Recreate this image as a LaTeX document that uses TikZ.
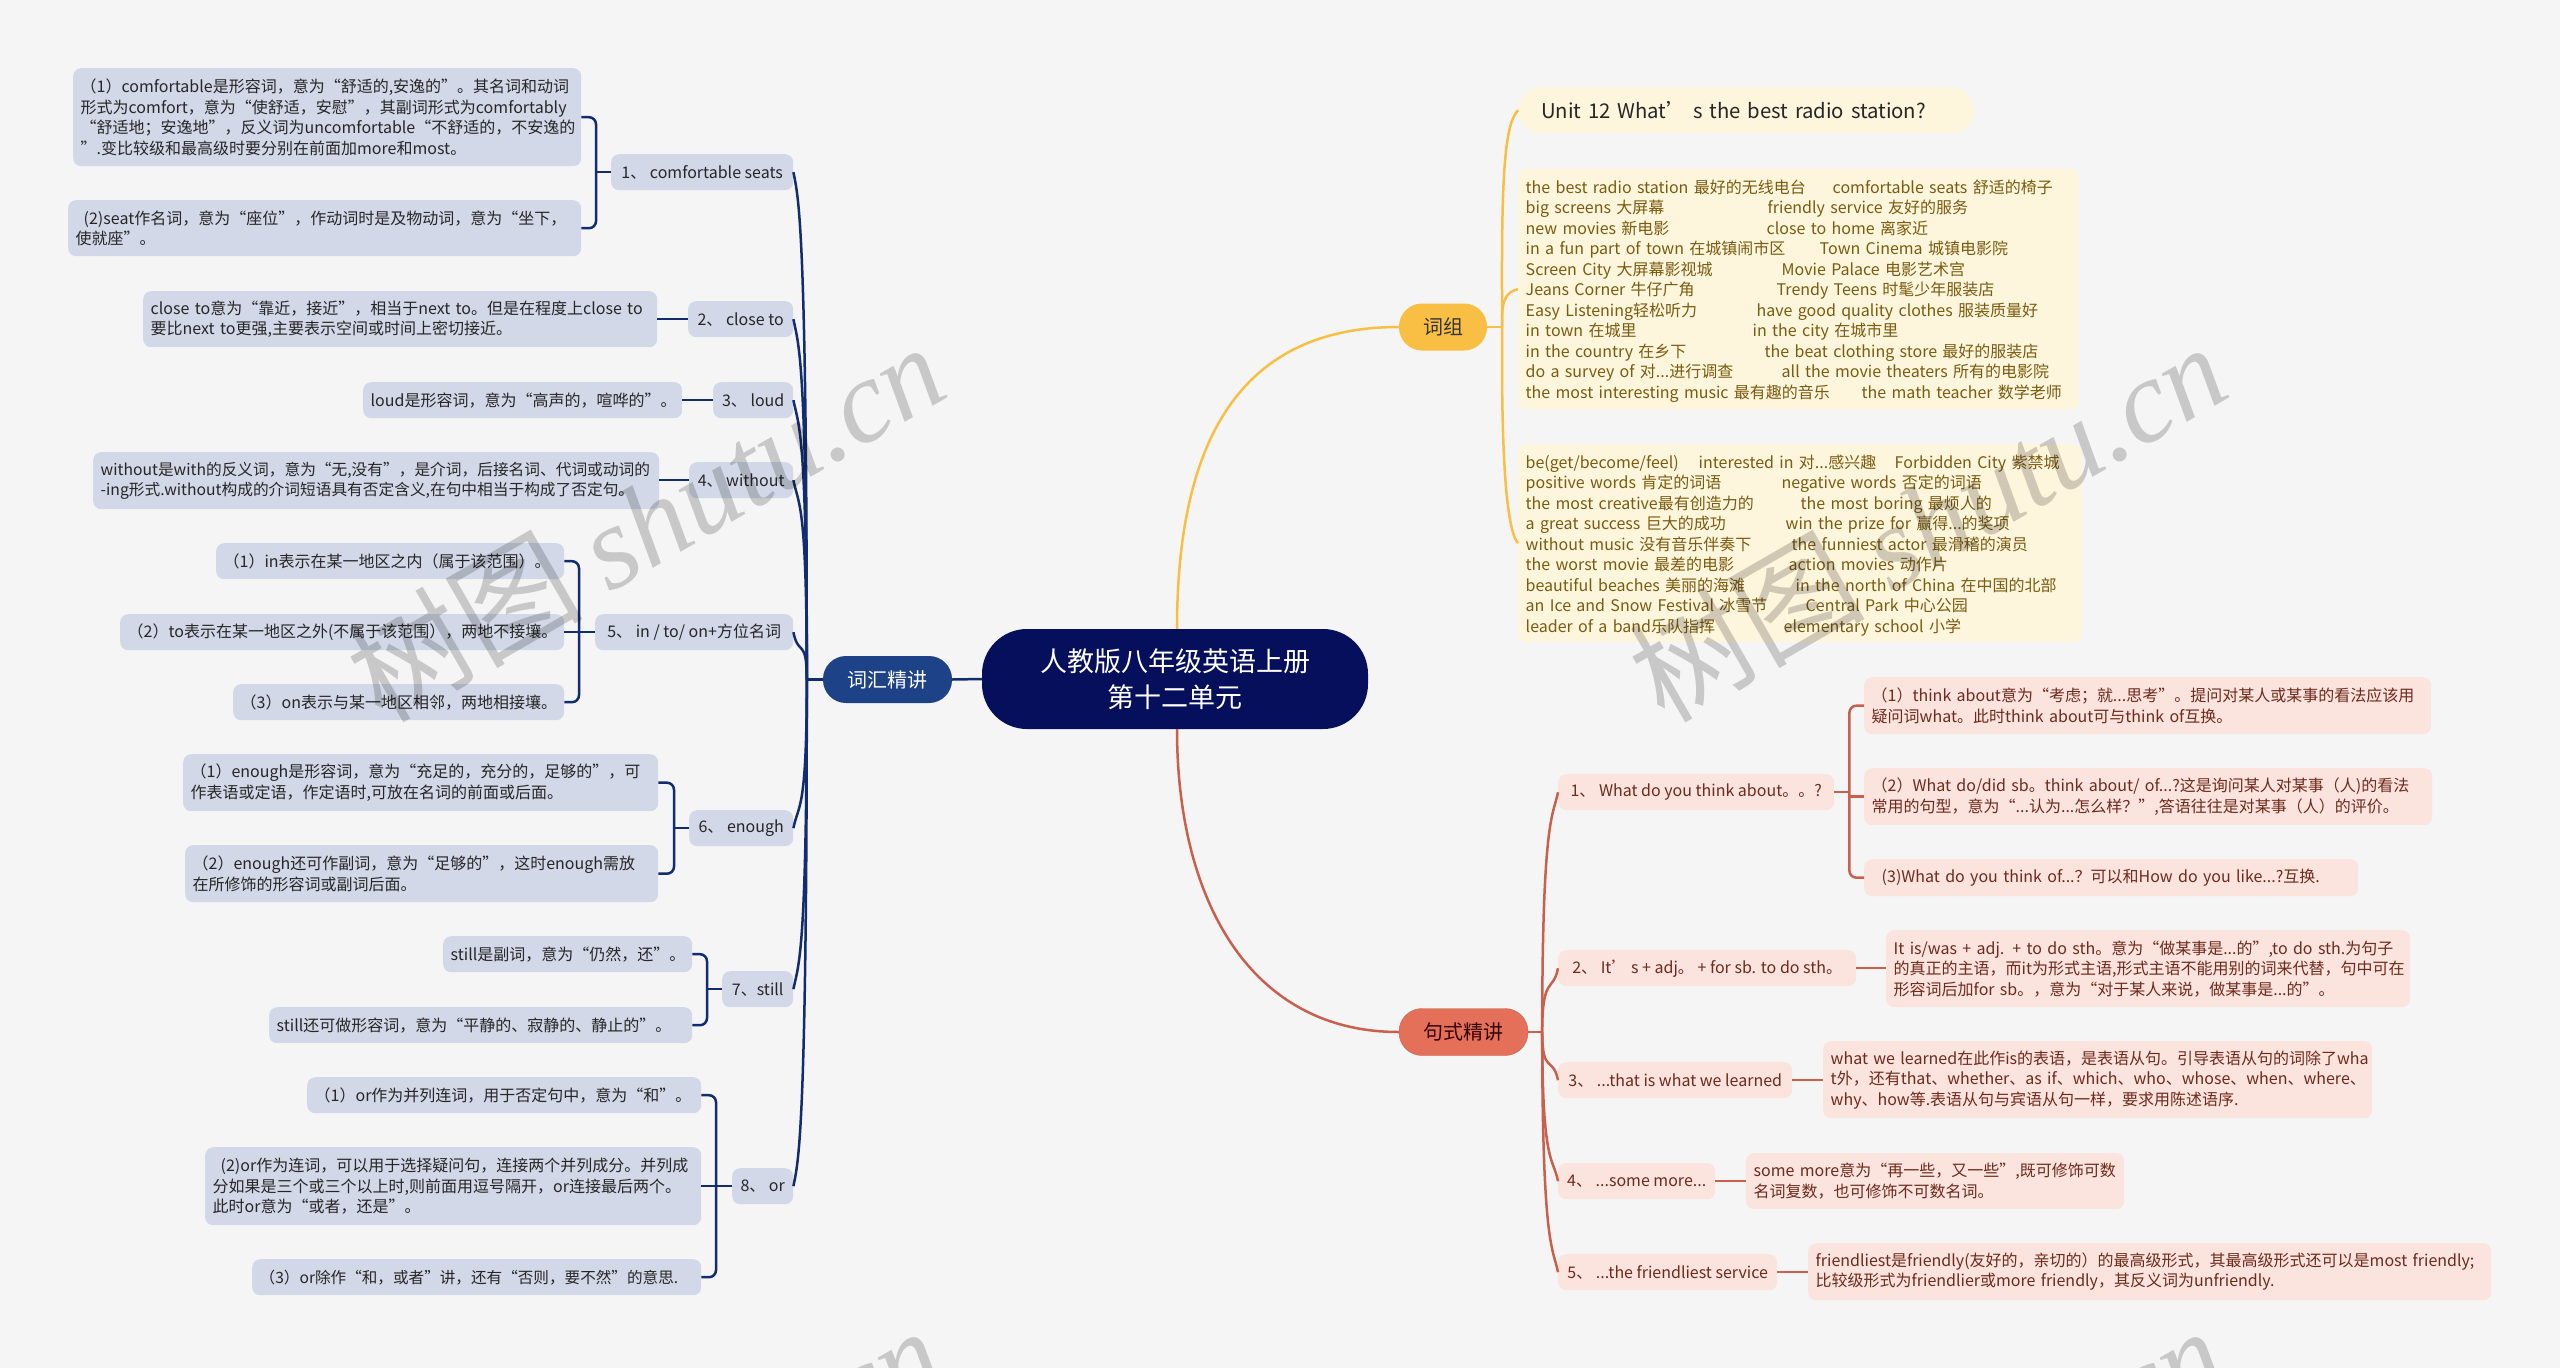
\documentclass[tikz,border=0pt]{standalone}
\usepackage{fontspec}
\usepackage{xcolor}
\setmainfont{Noto Sans CJK SC}
\newfontfamily\wmlatin{Liberation Serif}
\usetikzlibrary{positioning,calc}

\definecolor{pagebg}{HTML}{F5F5F5}
\definecolor{rootblue}{HTML}{050F5C}
\definecolor{vocabblue}{HTML}{1E4287}
\definecolor{vocabline}{HTML}{122C70}
\definecolor{vocabfill}{HTML}{D2D8E8}
\definecolor{phrasegold}{HTML}{F9BF45}
\definecolor{phrasefill}{HTML}{FEF5DD}
\definecolor{phrasetext}{HTML}{7A5C10}
\definecolor{sentred}{HTML}{E5705A}
\definecolor{sentline}{HTML}{C9604D}
\definecolor{sentfill}{HTML}{FBE4DE}
\definecolor{senttext}{HTML}{6E2A1C}

\tikzset{
  leaf/.style n args={2}{rectangle, anchor=north west, rounded corners=8pt,
    inner xsep=7.5pt, inner ysep=0pt, text width=#1pt-15pt, minimum height=#2pt,
    align=left, font=\fontsize{16}{20.5}\selectfont},
  item/.style n args={2}{rectangle, anchor=north west, rounded corners=8pt,
    inner sep=0pt, minimum width=#1pt, minimum height=#2pt,
    font=\fontsize{16}{20.5}\selectfont},
  vleaf/.style n args={2}{leaf={#1}{#2}, fill=vocabfill, text=black!85},
  vitem/.style n args={2}{item={#1}{#2}, fill=vocabfill, text=black!85},
  gleaf/.style n args={2}{leaf={#1}{#2}, fill=phrasefill, text=phrasetext},
  sleaf/.style n args={2}{leaf={#1}{#2}, fill=sentfill, text=senttext},
  sitem/.style n args={2}{item={#1}{#2}, fill=sentfill, text=senttext},
  topic/.style n args={2}{rectangle, rounded corners=23pt, minimum width=#1pt,
    minimum height=#2pt, inner sep=0pt, font=\fontsize{20}{24}\selectfont},
  vline/.style={draw=vocabline, line width=2.5pt},
  gline/.style={draw=phrasegold, line width=2.5pt},
  sline/.style={draw=sentline, line width=2.5pt},
  watermark/.style={rotate=30, text=black, text opacity=0.18, inner sep=0pt,
    font=\fontsize{118}{120}\selectfont}
}
\newcommand{\phr}[3]{\makebox[#1pt][l]{#2}#3}

\begin{document}
\begin{tikzpicture}[x=1pt,y=-1pt]
\useasboundingbox (0,0) rectangle (2560,1368);
\fill[pagebg] (0,0) rectangle (2560,1368);

% Root and main topics
\node[rectangle, rounded corners=45pt, fill=rootblue, text=white, minimum width=386pt,
  minimum height=100pt, inner sep=0pt, align=center, font=\fontsize{27}{36}\selectfont]
  (root) at (1175,679) {人教版八年级英语上册\\第十二单元};
\node[topic={129}{47}, fill=vocabblue, text=white] (vocab) at (887.5,679.5) {词汇精讲};
\node[topic={88}{47}, fill=phrasegold, text=black!80] (phrase) at (1443,327) {词组};
\node[topic={129}{47}, fill=sentred, draw=sentline, text=black!80!red] (sent) at (1463.5,1032) {句式精讲};

% Vocabulary items
\node[vitem={182}{36}] (n1) at (611,154) {1、\ comfortable seats};
\node[vitem={105}{36}] (n2) at (688,301) {2、\ close to};
\node[vitem={80}{36}] (n3) at (713,382) {3、\ loud};
\node[vitem={104}{36}] (n4) at (689,462) {4、\ without};
\node[vitem={198}{36}] (n5) at (595,614) {5、\ in / to/ on+方位名词};
\node[vitem={104}{36}] (n6) at (689,810) {6、\ enough};
\node[vitem={71}{36}] (n7) at (722,971) {7、still};
\node[vitem={61}{36}] (n8) at (732,1168) {8、\ or};

% Vocabulary notes
\node[vleaf={508}{98}] (c1a) at (73,68) {（1）comfortable是形容词，意为“舒适的,安逸的”。其名词和动词\\形式为comfort，意为“使舒适，安慰”，其副词形式为comfortably\\“舒适地；安逸地"，反义词为uncomfortable“不舒适的，不安逸的\\”.变比较级和最高级时要分别在前面加more和most。};
\node[vleaf={513}{56}] (c1b) at (68,200) {\hspace*{8pt}(2)seat作名词，意为“座位"，作动词时是及物动词，意为“坐下，\\使就座”。};
\node[vleaf={514}{56}] (c2) at (143,291) {close to意为“靠近，接近”，相当于next to。但是在程度上close to\\要比next to更强,主要表示空间或时间上密切接近。};
\node[vleaf={319}{36}] (c3) at (363,382) {loud是形容词，意为“高声的，喧哗的”。};
\node[vleaf={566}{57}, font=\fontsize{15.7}{20.5}\selectfont] (c4) at (93,452) {without是with的反义词，意为“无,没有"，是介词，后接名词、代词或动词的\\-ing形式.without构成的介词短语具有否定含义,在句中相当于构成了否定句。};
\node[vleaf={348}{36}] (c5a) at (216,543) {（1）in表示在某一地区之内（属于该范围）。};
\node[vleaf={444}{36}] (c5b) at (120,614) {（2）to表示在某一地区之外(不属于该范围），两地不接壤。};
\node[vleaf={331}{36}] (c5c) at (233,684) {（3）on表示与某一地区相邻，两地相接壤。};
\node[vleaf={475}{57}] (c6a) at (183,754) {（1）enough是形容词，意为“充足的，充分的，足够的”，可\\作表语或定语，作定语时,可放在名词的前面或后面。};
\node[vleaf={473}{57}] (c6b) at (185,845) {（2）enough还可作副词，意为“足够的”，这时enough需放\\在所修饰的形容词或副词后面。};
\node[vleaf={249}{36}] (c7a) at (443,936) {still是副词，意为“仍然，还”。};
\node[vleaf={423}{36}] (c7b) at (269,1007) {still还可做形容词，意为“平静的、寂静的、静止的”。};
\node[vleaf={394}{36}] (c8a) at (307,1077) {（1）or作为并列连词，用于否定句中，意为“和”。};
\node[vleaf={496}{78}] (c8b) at (205,1147) {\hspace*{8pt}(2)or作为连词，可以用于选择疑问句，连接两个并列成分。并列成\\分如果是三个或三个以上时,则前面用逗号隔开，or连接最后两个。\\此时or意为“或者，还是”。};
\node[vleaf={449}{36}, font=\fontsize{15.6}{20.5}\selectfont] (c8c) at (252,1259) {（3）or除作“和，或者”讲，还有“否则，要不然"的意思.};

% Vocabulary connectors
\draw[vline] (vocab.east) -- (root.west);
\coordinate (vhub) at ($(vocab.west)+(-16,0)$);
\draw[vline] (vocab.west) -- (vhub);
\foreach \nm/\dy in {n1/25,n2/25,n3/25,n4/25,n5/25,n6/-25,n7/-25,n8/-25}
  \draw[vline] (vhub) .. controls ($(vhub)!.9!(vhub|-\nm.east)$) and ($(\nm.east)+(5,\dy)$) .. (\nm.east);

\coordinate (j1) at ($(n1.west)+(-15,0)$);
\coordinate (j5) at ($(n5.west)+(-16,0)$);
\coordinate (j6) at ($(n6.west)+(-15,0)$);
\coordinate (j7) at ($(n7.west)+(-15,0)$);
\coordinate (j8) at ($(n8.west)+(-16,0)$);
\draw[vline, rounded corners=7pt] (c1a.east) -| (j1) |- (c1b.east);
\draw[vline] (n1.west) -- (j1);
\draw[vline] (n2.west) -- (n2.west -| c2.east);
\draw[vline] (n3.west) -- (n3.west -| c3.east);
\draw[vline] (n4.west) -- (n4.west -| c4.east);
\draw[vline, rounded corners=7pt] (c5a.east) -| (j5) |- (c5c.east);
\draw[vline] (n5.west) -- (c5b.east);
\draw[vline, rounded corners=7pt] (c6a.east) -| (j6) |- (c6b.east);
\draw[vline] (n6.west) -- (j6);
\draw[vline, rounded corners=7pt] (c7a.east) -| (j7) |- (c7b.east);
\draw[vline] (n7.west) -- (j7);
\draw[vline, rounded corners=7pt] (c8a.east) -| (j8) |- (c8c.east);
\draw[vline] (n8.west) -- (c8b.east);

% Phrase boxes
\node[gleaf={456}{46}, rounded corners=23pt, text=black!85, inner xsep=23pt, text width=410pt,
  font=\fontsize{20.3}{25}\selectfont] (g0) at (1518,87) {Unit 12 What’\ s the best radio station?};
\node[gleaf={561}{240}] (g1) at (1518,169) {\rule{0pt}{17.5pt}%
\phr{307}{the best radio station 最好的无线电台}{comfortable seats 舒适的椅子}\\
\phr{242}{big screens 大屏幕}{friendly service 友好的服务}\\
\phr{241}{new movies 新电影}{close to home 离家近}\\
\phr{294}{in a fun part of town 在城镇闹市区}{Town Cinema 城镇电影院}\\
\phr{256}{Screen City 大屏幕影视城}{Movie Palace 电影艺术宫}\\
\phr{251}{Jeans Corner 牛仔广角}{Trendy Teens 时髦少年服装店}\\
\phr{231}{Easy Listening轻松听力}{have good quality clothes 服装质量好}\\
\phr{227}{in town 在城里}{in the city 在城市里}\\
\phr{239}{in the country 在乡下}{the beat clothing store 最好的服装店}\\
\phr{256}{do a survey of 对...进行调查}{all the movie theaters 所有的电影院}\\
\phr{336}{the most interesting music 最有趣的音乐}{the math teacher 数学老师}};
\node[gleaf={564}{198}] (g2) at (1518,444) {\rule{0pt}{17.5pt}%
\phr{369}{\phr{173}{be(get/become/feel)}{interested in 对...感兴趣}}{Forbidden City 紫禁城}\\
\phr{256}{positive words 肯定的词语}{negative words 否定的词语}\\
\phr{275}{the most creative最有创造力的}{the most boring 最烦人的}\\
\phr{260}{a great success 巨大的成功}{win the prize for 赢得...的奖项}\\
\phr{266}{without music 没有音乐伴奏下}{the funniest actor 最滑稽的演员}\\
\phr{263}{the worst movie 最差的电影}{action movies 动作片}\\
\phr{270}{beautiful beaches 美丽的海滩}{in the north of China 在中国的北部}\\
\phr{280}{an Ice and Snow Festival 冰雪节}{Central Park 中心公园}\\
\phr{258}{leader of a band乐队指挥}{elementary school 小学}};

% Phrase connectors
\draw[gline] (root.north -| 1177,629) .. controls (1177,420) and (1255,327) .. (phrase.west);
\coordinate (ghub) at ($(phrase.east)+(15,0)$);
\draw[gline] (phrase.east) -- (ghub);
\draw[gline] (ghub) .. controls (1501,180) and (1504,125) .. (g0.west);
\draw[gline] (ghub) .. controls (1501,300) and (1506,292) .. (g1.west);
\draw[gline] (ghub) .. controls (1501,450) and (1506,530) .. (g2.west);

% Sentence items
\node[sitem={276}{36}] (r1) at (1558,774) {1、\ What do you think about。。?};
\node[sitem={298}{36}] (r2) at (1558,950) {2、\ It’\ s + adj。\ + for sb. to do sth。};
\node[sitem={234}{36}] (r3) at (1558,1062) {3、\ ...that is what we learned};
\node[sitem={157}{36}] (r4) at (1558,1163) {4、\ ...some more...};
\node[sitem={219}{36}] (r5) at (1558,1254) {5、\ ...the friendliest service};

% Sentence notes
\node[sleaf={567}{57}] (r1a) at (1864,677) {（1）think about意为“考虑；就...思考”。提问对某人或某事的看法应该用\\疑问词what。此时think about可与think of互换。};
\node[sleaf={568}{57}] (r1b) at (1864,768) {（2）What do/did sb。think about/ of...?这是询问某人对某事（人)的看法\\常用的句型，意为“...认为...怎么样？",答语往往是对某事（人）的评价。};
\node[sleaf={494}{37}] (r1c) at (1864,859) {\hspace*{10pt}(3)What do you think of...？可以和How do you like...?互换.};
\node[sleaf={524}{77}] (r2a) at (1886,930) {It is/was + adj. + to do sth。意为“做某事是...的”,to do sth.为句子\\的真正的主语，而it为形式主语,形式主语不能用别的词来代替，句中可在\\形容词后加for sb。，意为“对于某人来说，做某事是...的"。};
\node[sleaf={549}{77}] (r3a) at (1823,1041) {what we learned在此作is的表语，是表语从句。引导表语从句的词除了wha\\t外，还有that、whether、as if、which、who、whose、when、where、\\why、how等.表语从句与宾语从句一样，要求用陈述语序.};
\node[sleaf={378}{56}] (r4a) at (1746,1153) {some more意为“再一些，又一些",既可修饰可数\\名词复数，也可修饰不可数名词。};
\node[sleaf={683}{57}] (r5a) at (1808,1243) {friendliest是friendly(友好的，亲切的）的最高级形式，其最高级形式还可以是most friendly;\\比较级形式为friendlier或more friendly，其反义词为unfriendly.};

% Sentence connectors
\draw[sline] (root.south -| 1177,729) .. controls (1177,900) and (1250,1032) .. (sent.west);
\coordinate (shub) at ($(sent.east)+(14,0)$);
\draw[sline] (sent.east) -- (shub);
\foreach \nm/\dy in {r1/25,r2/25,r3/-25,r4/-25,r5/-25}
  \draw[sline] (shub) .. controls ($(shub)!.9!(shub|-\nm.west)$) and ($(\nm.west)+(-5,\dy)$) .. (\nm.west);

\coordinate (jr1) at ($(r1.east)+(15,0)$);
\draw[sline] (r1.east) -- (jr1);
\draw[sline, rounded corners=7pt] (r1a.west) -| (jr1) |- (r1c.west);
\draw[sline] (r1b.west) -- (r1b.west -| jr1);
\draw[sline] (r2.east) -- (r2.east -| r2a.west);
\draw[sline] (r3.east) -- (r3.east -| r3a.west);
\draw[sline] (r4.east) -- (r4.east -| r4a.west);
\draw[sline] (r5.east) -- (r5.east -| r5a.west);

% Watermarks
\node[watermark] (wm1) at (645,521) {树图 {\wmlatin\itshape shutu.cn}};
\node[watermark] (wm2) at (1927,521) {树图 {\wmlatin\itshape shutu.cn}};
\node[watermark] (wm3) at (643,1505) {树图 {\wmlatin\itshape shutu.cn}};
\node[watermark] (wm4) at (1925,1505) {树图 {\wmlatin\itshape shutu.cn}};
\end{tikzpicture}
\end{document}
